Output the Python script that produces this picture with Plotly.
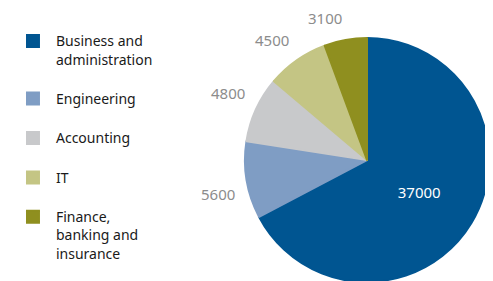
import math
import plotly.graph_objects as go

categories = ["Business and<br>administration<br>", "Engineering<br>", "Accounting<br>", "IT<br>",
              "Finance,<br>banking and<br>insurance"]
values = [37000, 5600, 4800, 4500, 3100]
colors = ["#005591", "#7f9dc4", "#c8c9cb", "#c4c584", "#8f8f1f"]
inside_label = [True, False, False, False, False]

FONT = "Noto Sans"
W, H = 493, 281
# pie geometry (figure pixels)
CX, CY, R = 359, 152, 122
LABEL_R = 132

dom_x = [(CX - R) / W, (CX + R) / W]
dom_y = [1 - (CY + R) / H, 1 - (CY - R) / H]

fig = go.Figure(go.Pie(
    labels=categories,
    values=values,
    sort=False,
    direction="clockwise",
    rotation=0,
    marker=dict(colors=colors, line=dict(color=colors, width=2)),
    text=[f"{v}" if ins else "" for v, ins in zip(values, inside_label)],
    texttemplate="%{text}",
    textposition=["inside" if ins else "none" for ins in inside_label],
    textfont=dict(family=FONT, size=15, color="white"),
    insidetextorientation="horizontal",
    domain=dict(x=dom_x, y=dom_y),
    hoverinfo="label+value",
))

# outside value labels, placed along each slice's mid-angle
total = sum(values)
cum = 0
annotations = []
for v, ins in zip(values, inside_label):
    mid = (cum + v / 2) / total * 2 * math.pi
    cum += v
    if ins:
        continue
    s, c = math.sin(mid), math.cos(mid)
    px = CX + LABEL_R * s
    py = CY - LABEL_R * c
    annotations.append(dict(
        x=px / W, y=1 - py / H, xref="paper", yref="paper",
        text=f"{v}", showarrow=False,
        xanchor="right" if s < 0 else "left",
        yanchor="bottom" if c > 0 else "top",
        font=dict(family=FONT, size=15, color="#8c8c8c"),
    ))

fig.update_layout(
    width=W, height=H,
    margin=dict(l=0, r=0, t=0, b=0),
    paper_bgcolor="white",
    plot_bgcolor="white",
    font=dict(family=FONT, size=14, color="#1a1a1a"),
    legend=dict(
        x=0.004, xanchor="left",
        y=0.938, yanchor="top",
        valign="top",
        itemwidth=36,
        font=dict(family=FONT, size=14, color="#1a1a1a"),
        traceorder="normal",
    ),
    annotations=annotations,
    showlegend=True,
)

fig.write_html("out.html")
